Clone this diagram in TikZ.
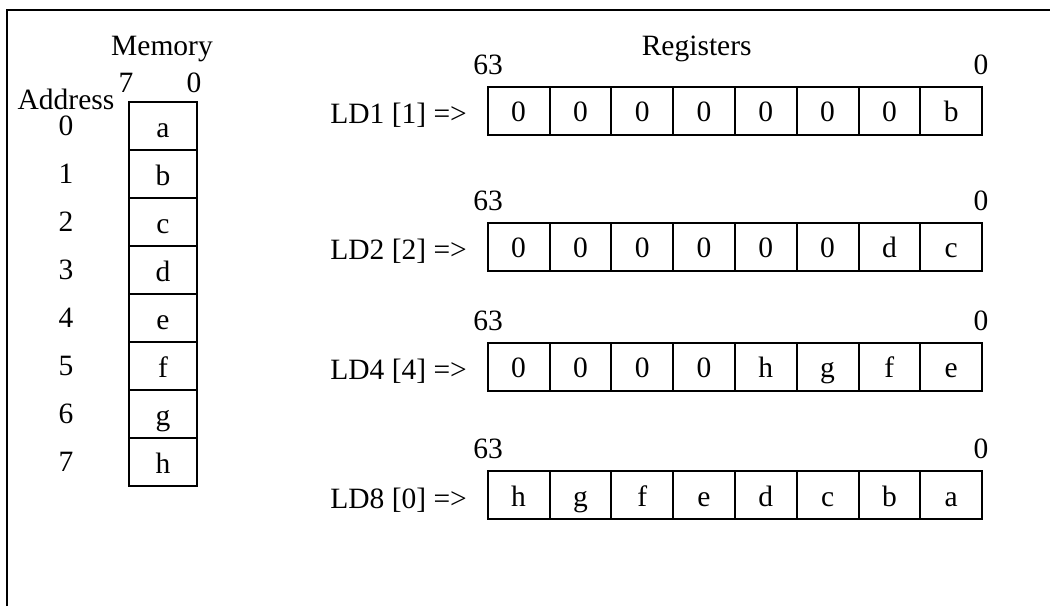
\documentclass[tikz,border=0pt]{standalone}
\usepackage{fontspec}
\setmainfont{Liberation Serif}
\begin{document}
\begin{tikzpicture}[x=1pt,y=-1pt,
  every node/.style={font=\fontsize{29.5}{33}\selectfont},
  cell/.style={draw,line width=2pt,inner sep=0pt,minimum height=48pt,text height=22pt,text depth=0pt},
  memcell/.style={cell,minimum width=67.7pt},
  regcell/.style={cell,minimum width=61.8pt},
  lbl/.style={inner sep=0pt,anchor=base}]
\useasboundingbox (0,0) rectangle (1050,606);
\draw[line width=1.3pt] (7,606) -- (7,10) -- (1050,10);
% Memory
\node[lbl] (memtitle) at (162,55) {Memory};
\node[lbl] (memhi) at (126,92) {7};
\node[lbl] (memlo) at (194,92) {0};
\node[lbl] (addr) at (66,109) {Address};
\foreach \v [count=\i from 0] in {a,b,c,d,e,f,g,h} {
  \node[memcell] (m\i) at (163,126+48*\i) {\v};
  \node[lbl] (ad\i) at (66,135+48.1*\i) {\i};
}
% Registers
\node[lbl] (regtitle) at (696.7,55) {Registers};
\foreach \r/\name/\yc/\vals in {1/LD1 [1] =>/110.85/{0,0,0,0,0,0,0,b},
                             2/LD2 [2] =>/246.85/{0,0,0,0,0,0,d,c},
                             3/LD4 [4] =>/366.85/{0,0,0,0,h,g,f,e},
                             4/LD8 [0] =>/495/{h,g,f,e,d,c,b,a}} {
  \node[lbl,anchor=base east] (ld\r) at (467,\yc+13) {\name};
  \node[lbl] (hi\r) at (488,\yc-24-12.7) {63};
  \node[lbl] (lo\r) at (981,\yc-24-12.7) {0};
  \foreach \v [count=\k from 0] in \vals {
    \node[regcell] (r\r c\k) at (487.7+61.8*\k+30.9,\yc) {\v};
  }
}
\end{tikzpicture}
\end{document}
